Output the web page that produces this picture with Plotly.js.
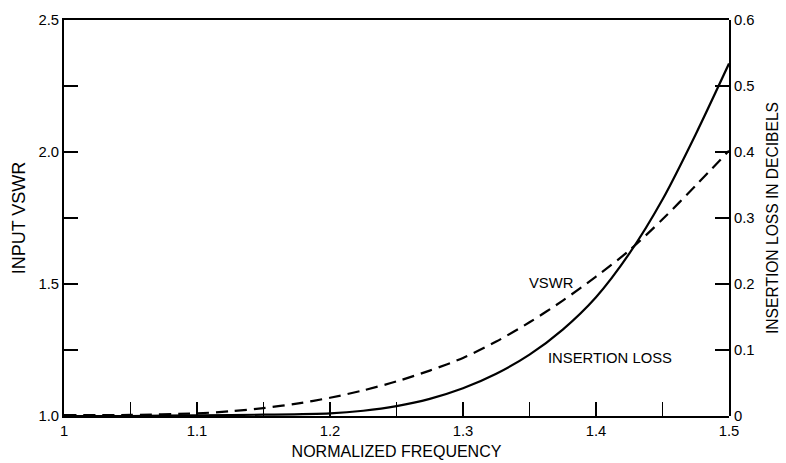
<!DOCTYPE html>
<html>
<head>
<meta charset="utf-8">
<script src="https://cdn.plot.ly/plotly-3.0.1.min.js"></script>
<style>html,body{margin:0;padding:0;background:#fff;}#chart{width:786px;height:463px;}</style>
</head>
<body>
<div id="chart"></div>
<script>
// VSWR (left axis, dashed)
const vswrFreq = [1.00, 1.05, 1.10, 1.125, 1.15, 1.175, 1.20, 1.225, 1.25, 1.275, 1.30, 1.325, 1.35, 1.375, 1.40, 1.425, 1.45, 1.475, 1.50];
const vswrVals = [1.003, 1.004, 1.010, 1.018, 1.030, 1.047, 1.069, 1.097, 1.131, 1.172, 1.220, 1.282, 1.355, 1.437, 1.528, 1.627, 1.745, 1.873, 2.005];
// Insertion loss in dB (right axis, solid)
const ilFreq = [1.00, 1.05, 1.10, 1.15, 1.20, 1.225, 1.25, 1.275, 1.30, 1.325, 1.35, 1.375, 1.40, 1.425, 1.45, 1.475, 1.50];
const ilVals = [0.000, 0.000, 0.001, 0.002, 0.004, 0.008, 0.015, 0.026, 0.042, 0.064, 0.093, 0.131, 0.180, 0.246, 0.328, 0.427, 0.534];

// tick labels
const xTickVals = [1.00, 1.05, 1.10, 1.15, 1.20, 1.25, 1.30, 1.35, 1.40, 1.45, 1.50];
const xTickText = ['1', '', '1.1', '', '1.2', '', '1.3', '', '1.4', '', '1.5'];
const yTickVals = [1.0, 1.25, 1.5, 1.75, 2.0, 2.25, 2.5];
const yTickText = ['1.0', '', '1.5', '', '2.0', '', '2.5'];
const y2TickVals = [0, 0.1, 0.2, 0.3, 0.4, 0.5, 0.6];
const y2TickText = ['0', '0.1', '0.2', '0.3', '0.4', '0.5', '0.6'];

const FONT = '"Liberation Sans", Arial, Helvetica, sans-serif';

const traces = [
  {x: vswrFreq, y: vswrVals, type: 'scatter', mode: 'lines', name: 'VSWR',
   line: {color: '#000', width: 2.2, dash: '12px,7px', shape: 'spline', smoothing: 0.8},
   xaxis: 'x', yaxis: 'y', hoverinfo: 'skip'},
  {x: ilFreq, y: ilVals, type: 'scatter', mode: 'lines', name: 'INSERTION LOSS',
   line: {color: '#000', width: 2.2, shape: 'spline', smoothing: 0.8},
   xaxis: 'x2', yaxis: 'y2', hoverinfo: 'skip'}
];

// tick-only frequency axes along the bottom and top frame edges
const tickOnlyAxis = side => ({
  overlaying: 'x', anchor: 'y', side: side,
  range: [1.0, 1.5], tickmode: 'array', tickvals: xTickVals,
  ticks: 'inside', ticklen: 14, tickwidth: 1.6, tickcolor: '#000',
  showticklabels: false, showline: false, showgrid: false, zeroline: false
});

const layout = {
  width: 786, height: 463,
  margin: {l: 64, r: 57, t: 20, b: 47},
  paper_bgcolor: '#fff', plot_bgcolor: 'rgba(0,0,0,0)',
  showlegend: false,
  font: {family: FONT, size: 14.8, color: '#000'},
  xaxis: {
    domain: [0, 1], anchor: 'y',
    range: [1.0, 1.5], tickmode: 'array', tickvals: xTickVals, ticktext: xTickText,
    ticks: 'inside', ticklen: 14, tickwidth: 1.6, tickcolor: '#000',
    showline: true, linecolor: '#000', linewidth: 2, mirror: true,
    showgrid: false, zeroline: false,
    title: {text: 'NORMALIZED FREQUENCY', font: {size: 16}, standoff: 8},
    tickfont: {size: 14.8}
  },
  xaxis3: tickOnlyAxis('bottom'),
  xaxis4: tickOnlyAxis('top'),
  yaxis: {
    domain: [0, 1], anchor: 'x',
    range: [1.0, 2.5], tickmode: 'array', tickvals: yTickVals, ticktext: yTickText,
    ticks: 'inside', ticklen: 14, tickwidth: 1.6, tickcolor: '#000',
    showline: true, linecolor: '#000', linewidth: 2,
    showgrid: false, zeroline: false,
    title: {text: 'INPUT VSWR', font: {size: 18}, standoff: 8},
    tickfont: {size: 14.8}
  },
  xaxis2: {
    domain: [0, 1], anchor: 'y2', range: [1.0, 1.5], visible: false,
    showgrid: false, zeroline: false
  },
  yaxis2: {
    domain: [0, 1], anchor: 'x2', side: 'right',
    range: [0, 0.6], tickmode: 'array', tickvals: y2TickVals, ticktext: y2TickText,
    ticks: 'inside', ticklen: 14, tickwidth: 1.6, tickcolor: '#000',
    showline: true, linecolor: '#000', linewidth: 2,
    showgrid: false, zeroline: false,
    title: {text: 'INSERTION LOSS IN DECIBELS', font: {size: 15.6}, standoff: 14},
    tickfont: {size: 14.8}
  },
  annotations: [
    {x: 1.366, y: 1.504, xref: 'x', yref: 'y', text: 'VSWR', showarrow: false, font: {size: 14.8}},
    {x: 1.4105, y: 1.22, xref: 'x', yref: 'y', text: 'INSERTION LOSS', showarrow: false, font: {size: 14.8}}
  ]
};

Plotly.newPlot('chart', traces, layout, {displayModeBar: false, staticPlot: true});
</script>
</body>
</html>
